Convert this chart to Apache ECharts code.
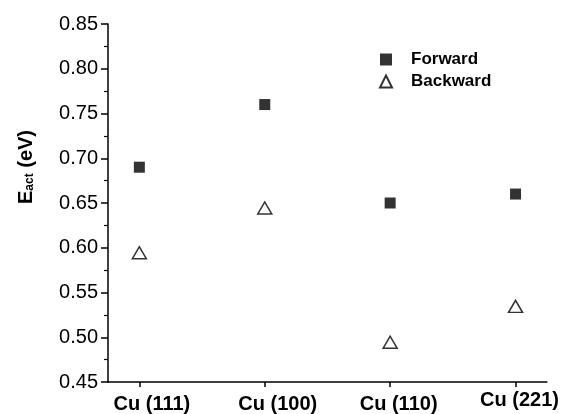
<!DOCTYPE html>
<html>
<head>
<meta charset="utf-8">
<script src="https://cdn.jsdelivr.net/npm/echarts@6/dist/echarts.min.js"></script>
<style>
html,body{margin:0;padding:0;background:#fff;}
#chart{width:562px;height:414px;}
</style>
</head>
<body>
<div id="chart"></div>
<script>
const categories = ['Cu (111)', 'Cu (100)', 'Cu (110)', 'Cu (221)'];
const forward = [0.69, 0.76, 0.65, 0.66];
const backward = [0.59, 0.64, 0.49, 0.53];
const yTicks = [0.45, 0.50, 0.55, 0.60, 0.65, 0.70, 0.75, 0.80, 0.85];

const chart = echarts.init(document.getElementById('chart'));
const font = '"Liberation Sans", Arial, sans-serif';
const catPos = categories.map((c, i) => i + 1);

const labelBase = { fontFamily: font, fontWeight: 'bold', fontSize: 20, color: '#000' };

chart.setOption({
  animation: false,
  backgroundColor: '#fff',
  grid: { left: 108, right: 15, top: 24, bottom: 31, containLabel: false },
  legend: {
    orient: 'vertical',
    left: 374,
    top: 46,
    itemWidth: 12,
    itemHeight: 12,
    itemGap: 5,
    textStyle: { fontFamily: font, fontWeight: 'bold', fontSize: 17, color: '#000', padding: [0, 0, 0, 14] },
    data: ['Forward', 'Backward']
  },
  xAxis: {
    type: 'value',
    min: 0.75,
    max: 4.25,
    axisLine: { show: true, onZero: false, lineStyle: { color: '#000', width: 1.5 } },
    axisTick: { show: true, customValues: catPos, length: 5, lineStyle: { color: '#000', width: 1.5 } },
    axisLabel: {
      customValues: catPos,
      formatter: v => { const i = Math.round(v) - 1; return '{l' + i + '|' + categories[i] + '}'; },
      margin: 8,
      rich: {
        l0: Object.assign({ padding: [4, 0, 0, 25] }, labelBase),
        l1: Object.assign({ padding: [4, 0, 0, 26] }, labelBase),
        l2: Object.assign({ padding: [4, 0, 0, 17] }, labelBase),
        l3: Object.assign({ padding: [0, 0, 0, 8] }, labelBase)
      }
    },
    splitLine: { show: false }
  },
  yAxis: {
    type: 'value',
    min: 0.45,
    max: 0.85,
    interval: 0.05,
    axisLine: { show: true, lineStyle: { color: '#000', width: 1.5 } },
    axisTick: { show: true, length: 7, lineStyle: { color: '#000', width: 1.5 } },
    minorTick: { show: true, splitNumber: 2, length: 4, lineStyle: { color: '#000', width: 1.2 } },
    axisLabel: {
      formatter: v => v.toFixed(2),
      customValues: yTicks,
      fontFamily: font, fontSize: 20, color: '#000', margin: 10
    },
    splitLine: { show: false },
    name: '{b|E}{s|act}{b| (eV)}',
    nameLocation: 'middle',
    nameRotate: 90,
    nameGap: 72,
    nameTextStyle: {
      padding: [0, 0, 0, 72],
      rich: {
        b: { fontFamily: font, fontWeight: 'bold', fontSize: 20, color: '#000' },
        s: { fontFamily: font, fontWeight: 'bold', fontSize: 12, color: '#000', verticalAlign: 'bottom', padding: [8, 0, 0, 0] }
      }
    }
  },
  series: [
    {
      name: 'Forward',
      type: 'scatter',
      symbol: 'rect',
      symbolSize: 11,
      itemStyle: { color: '#000' },
      data: forward.map((v, i) => [catPos[i], v])
    },
    {
      name: 'Backward',
      type: 'scatter',
      symbol: 'triangle',
      symbolSize: [14, 12],
      symbolOffset: [0, -4],
      itemStyle: { color: '#fff', borderColor: '#000', borderWidth: 1.5 },
      data: backward.map((v, i) => [catPos[i], v])
    }
  ]
});
</script>
</body>
</html>
